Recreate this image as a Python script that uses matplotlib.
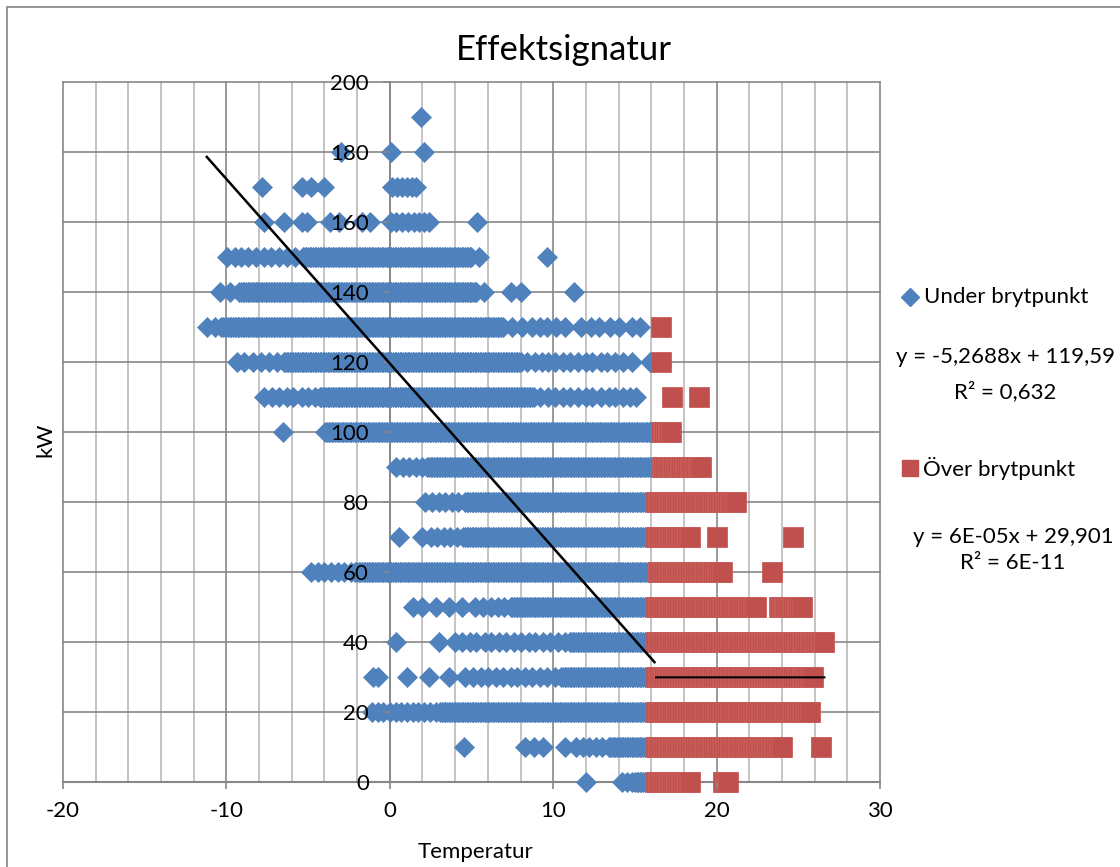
import numpy as np
import matplotlib
matplotlib.use("Agg")
import matplotlib.pyplot as plt
from matplotlib.lines import Line2D
from matplotlib.patches import Rectangle

plt.rcParams['font.family'] = ['Lato', 'DejaVu Sans']
plt.rcParams['axes.unicode_minus'] = False

BLUE = '#4F81BD'
RED = '#C0504D'
GRID_MAJOR = '#878787'
GRID_MINOR = '#C4C4C4'

# Power levels (kW) below the break point, with single readings (°C) and
# stretches of readings too dense to separate (from, to).
under_levels = [190, 180, 170, 160, 150, 140, 130, 120, 110, 100,
                90, 80, 70, 60, 50, 40, 30, 20, 10, 0]
under_single = [
    [1.9],
    [-3.0, 0.05, 2.1],
    [-7.8, -5.4, -4.8, -4.05, 0.15, 0.45, 0.75, 1.05, 1.35, 1.6],
    [-7.7, -6.5, -5.4, -5.05, -3.65, -3.1, -1.7, -1.2, 0.05, 0.4, 0.75,
     1.1, 1.5, 1.8, 2.1, 2.4, 5.35],
    [-9.95, -9.5, -9.1, -8.7, -8.2, -7.7, -7.3, -6.8, -6.3, -5.8, 5.45, 9.65],
    [-10.4, -9.8, 5.75, 7.4, 8.0, 11.3],
    [-11.2, -10.7, 7.5, 8.1, 8.7, 9.2, 9.6, 10.2, 10.7, 11.7, 12.3, 12.8,
     13.5, 14.0, 14.8, 15.3],
    [-9.35, -8.9, -8.4, -7.9, -7.4, -6.9, 8.4, 8.9, 9.3, 9.7, 10.1, 10.6,
     11.0, 11.5, 12.0, 12.4, 12.9, 13.3, 13.8, 14.3, 14.8, 15.9],
    [-7.7, -7.2, -6.8, -6.3, -5.9, -5.4, -5.0, -4.6, 9.2, 9.7, 10.1, 10.6,
     11.0, 11.5, 12.0, 12.4, 12.9, 13.4, 13.8, 14.3, 14.7, 15.05],
    [-6.55],
    [0.35, 0.8, 1.2, 1.6, 2.0],
    [2.15, 2.6, 3.0, 3.4, 3.8, 4.2],
    [0.55, 2.0, 2.5, 2.9, 3.3, 3.7, 4.1],
    [-4.85, -4.4, -4.0, -3.6, -3.2, -2.8, -2.4],
    [1.4, 2.0, 2.8, 3.6, 4.4, 5.2, 5.7, 6.2, 6.6, 7.0],
    [0.35, 3.0, 4.0, 4.4, 4.9, 5.3, 5.8, 6.2, 6.7, 7.1, 7.6, 8.0, 8.5,
     8.9, 9.4, 9.8, 10.3, 10.7],
    [-1.0, -0.7, 1.05, 2.4, 3.6, 4.6, 5.1, 5.6, 6.0, 6.5, 6.9, 7.4, 7.8,
     8.3, 8.7, 9.2, 9.6, 10.1],
    [-1.1, -0.75, -0.4, 0.0, 0.35, 0.7, 1.05, 1.4, 1.75, 2.1, 2.45, 2.8],
    [4.55, 8.3, 8.85, 9.4, 10.75, 11.4, 11.8, 12.2, 12.6, 13.0],
    [12.0, 14.2, 14.5, 14.8],
]
under_dense = [
    [], [], [], [],
    [(-5.3, 5.0)],
    [(-9.2, 5.3)],
    [(-10.3, 6.9)],
    [(-6.5, 8.0)],
    [(-4.3, 8.8)],
    [(-3.95, 16.2)],
    [(2.3, 16.2)],
    [(4.6, 16.2)],
    [(4.5, 16.2)],
    [(-2.1, 16.2)],
    [(7.4, 16.2)],
    [(11.0, 16.2)],
    [(10.5, 16.2)],
    [(3.1, 16.2)],
    [(13.4, 16.2)],
    [(15.0, 16.2)],
]

# Power levels above the break point
over_levels = [130, 120, 110, 100, 90, 80, 70, 60, 50, 40, 30, 20, 10, 0]
over_single = [
    [16.6], [16.6], [17.3, 18.9], [], [], [],
    [20.0, 24.65], [23.4], [], [], [], [], [26.4], [],
]
over_dense = [
    [], [], [],
    [(16.6, 17.2)],
    [(16.65, 19.1)],
    [(16.3, 21.2)],
    [(16.3, 18.4)],
    [(16.4, 20.3)],
    [(16.3, 22.4), (23.8, 25.2)],
    [(16.3, 26.6)],
    [(16.3, 25.9)],
    [(16.3, 25.7)],
    [(16.3, 24.0)],
    [(16.3, 18.4), (20.4, 20.7)],
]

# Linear trend lines
under_slope, under_intercept, under_r2 = -5.2688, 119.59, '0,632'
over_slope, over_intercept, over_r2 = 6e-05, 29.901, '6E-11'

x_ticks = [-20, -10, 0, 10, 20, 30]
x_minor = [-18, -16, -14, -12, -8, -6, -4, -2, 2, 4, 6, 8,
           12, 14, 16, 18, 22, 24, 26, 28]
y_ticks = [0, 20, 40, 60, 80, 100, 120, 140, 160, 180, 200]


def expand(levels, singles, dense, step=0.1):
    xs, ys = [], []
    for lvl, pts, runs in zip(levels, singles, dense):
        row = list(pts)
        for a, b in runs:
            row.extend(np.arange(a, b + 1e-9, step))
        xs.extend(row)
        ys.extend([lvl] * len(row))
    return np.array(xs), np.array(ys)


ux, uy = expand(under_levels, under_single, under_dense)
ox, oy = expand(over_levels, over_single, over_dense)

W, H = 1120, 867
fig = plt.figure(figsize=(W / 100, H / 100), dpi=100)
fig.patch.set_facecolor('white')

# chart frame
fig.add_artist(Rectangle((6.5 / W, -0.05), 1.2, 1 - 6.5 / H + 0.05,
                         transform=fig.transFigure, fill=False,
                         edgecolor='#8C8C8C', lw=1.3))

ax = fig.add_axes([63 / W, (H - 782) / H, (880 - 63) / W, (782 - 82) / H])
ax.set_xlim(-20, 30)
ax.set_ylim(0, 200)
ax.set_xticks(x_ticks)
ax.set_yticks(y_ticks)

# gridlines under everything
for xv in x_minor:
    ax.axvline(xv, color=GRID_MINOR, lw=1.4, zorder=0.3)
for xv in x_ticks:
    ax.axvline(xv, color=GRID_MAJOR, lw=1.2, zorder=0.4, clip_on=False)
for yv in y_ticks:
    ax.axhline(yv, color=GRID_MAJOR, lw=1.2, zorder=0.4, clip_on=False)

for s in ('top', 'right'):
    ax.spines[s].set_visible(False)
ax.spines['left'].set_position(('data', 0))
ax.spines['left'].set_color(GRID_MAJOR)
ax.spines['bottom'].set_color(GRID_MAJOR)
ax.spines['left'].set_linewidth(1.2)
ax.spines['bottom'].set_linewidth(1.5)
ax.spines['left'].set_zorder(0.5)
ax.spines['bottom'].set_zorder(0.5)

ax.tick_params(axis='x', which='major', direction='out', length=5,
               color=GRID_MAJOR, width=1.2, labelsize=16, pad=9)
ax.tick_params(axis='y', which='major', direction='out', length=5,
               color=GRID_MAJOR, width=1.2, labelsize=16, pad=10)

ax.plot(ux, uy, linestyle='none', marker='D', ms=9.8, mfc=BLUE,
        mec=BLUE, mew=0.5, zorder=1.0, clip_on=False)
ax.plot(ox, oy, linestyle='none', marker='s', ms=13.8, mfc=RED,
        mec='#C95E5B', mew=0.6, zorder=1.2, clip_on=False)

# trend lines over each series' temperature span
tx = np.array([ux.min(), ux.max()])
ax.plot(tx, under_slope * tx + under_intercept, color='black', lw=1.8,
        zorder=2.0)
tx = np.array([ox.min(), ox.max()])
ax.plot(tx, over_slope * tx + over_intercept, color='black', lw=1.5,
        zorder=2.0)

fig.text(564 / W, 1 - 50 / H, 'Effektsignatur', ha='center', va='center',
         fontsize=25)
fig.text(475 / W, 1 - 852 / H, 'Temperatur', ha='center', va='center',
         fontsize=16)
fig.text(45 / W, 1 - 440 / H, 'kW', ha='center', va='center',
         rotation=90, fontsize=16)

# legend and trend equations
fig.add_artist(Line2D([910 / W], [1 - 297 / H], marker='D', ms=9,
                      color=BLUE, transform=fig.transFigure))
fig.text(924 / W, 1 - 297 / H, 'Under brytpunkt', ha='left', va='center',
         fontsize=16)
fig.text(1005 / W, 1 - 357 / H,
         'y = {}x + {}'.format(str(under_slope).replace('.', ','),
                               str(under_intercept).replace('.', ',')),
         ha='center', va='center', fontsize=16)
fig.text(1005 / W, 1 - 392 / H, 'R² = ' + under_r2, ha='center',
         va='center', fontsize=16)

fig.add_artist(Line2D([910 / W], [1 - 468 / H], marker='s', ms=11,
                      color=RED, transform=fig.transFigure))
fig.text(923 / W, 1 - 468 / H, 'Över brytpunkt', ha='left', va='center',
         fontsize=16)
fig.text(1013 / W, 1 - 537 / H,
         'y = 6E-05x + {}'.format(str(over_intercept).replace('.', ',')),
         ha='center', va='center', fontsize=16)
fig.text(1013 / W, 1 - 563 / H, 'R² = ' + over_r2, ha='center',
         va='center', fontsize=16)

fig.savefig('out.png', dpi=100)
